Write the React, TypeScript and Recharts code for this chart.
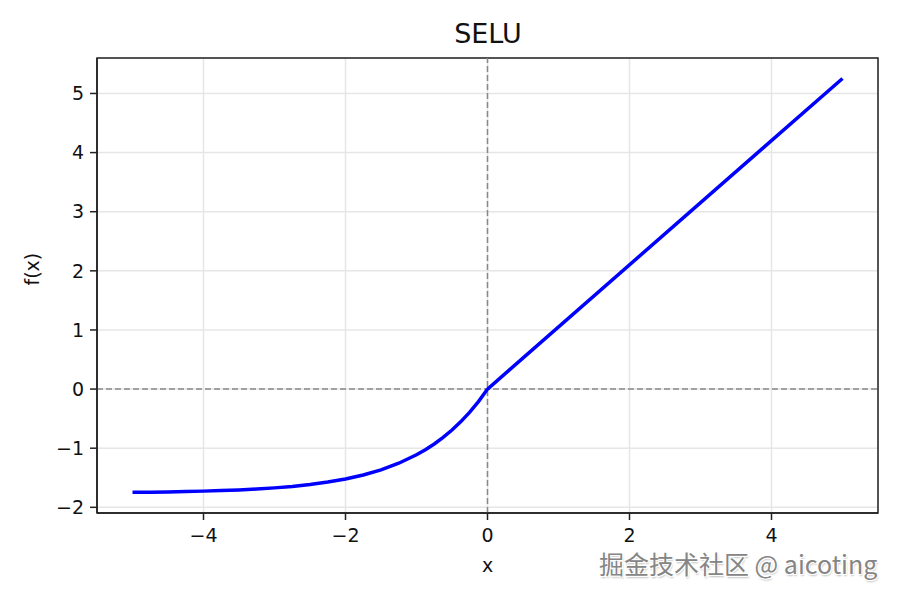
import { CartesianGrid, Line, LineChart, ReferenceArea, ReferenceLine, XAxis, YAxis } from "recharts";

// SELU curve, values
const X_VALUES = [
  -5, -4.75, -4.5, -4.25, -4, -3.75, -3.5, -3.25, -3, -2.75, -2.5, -2.25, -2, -1.75, -1.5,
  -1.25, -1, -0.875, -0.75, -0.625, -0.5, -0.375, -0.25, -0.125, 0, 5,
];
const Y_VALUES = [
  -1.746, -1.743, -1.739, -1.733, -1.726, -1.717, -1.705, -1.69, -1.671, -1.646, -1.614,
  -1.573, -1.52, -1.453, -1.366, -1.254, -1.111, -1.025, -0.928, -0.817, -0.692, -0.55,
  -0.389, -0.207, 0, 5.254,
];
const X_TICKS = [-4, -2, 0, 2, 4];
const Y_TICKS = [-2, -1, 0, 1, 2, 3, 4, 5];
const X_DOMAIN = [-5.5, 5.5];
const Y_DOMAIN = [-2.096, 5.6];

const data = X_VALUES.map((x, i) => ({ x, y: Y_VALUES[i] }));

const FONT = "'DejaVu Sans', sans-serif";
const fmt = (v: number) => String(v).replace("-", "\u2212");

export default function App() {
  return (
    <div style={{ position: "absolute", left: 0, top: 0, width: 900, height: 600, background: "#fff", fontFamily: FONT }}>
      <LineChart
        width={900}
        height={600}
        data={data}
        margin={{ top: 58, right: 22, left: 0, bottom: 0 }}
      >
        <CartesianGrid stroke="#e6e6e6" strokeWidth={1.5} />
        <XAxis
          dataKey="x"
          type="number"
          domain={X_DOMAIN}
          ticks={X_TICKS}
          tickFormatter={fmt}
          height={87}
          tickSize={7}
          tickMargin={9}
          stroke="#222"
          strokeWidth={1.5}
          tick={{ fill: "#111", fontSize: 19, fontFamily: FONT }}
          label={{ value: "x", position: "insideTop", offset: 46, fill: "#111", fontSize: 19, fontFamily: FONT }}
        />
        <YAxis
          type="number"
          domain={Y_DOMAIN}
          ticks={Y_TICKS}
          tickFormatter={fmt}
          width={97}
          tickSize={7}
          tickMargin={6}
          stroke="#222"
          strokeWidth={1.5}
          tick={{ fill: "#111", fontSize: 19, fontFamily: FONT }}
          label={{ value: "f(x)", angle: -90, position: "insideLeft", offset: 32, fill: "#111", fontSize: 19, fontFamily: FONT }}
        />
        <ReferenceLine y={0} stroke="#888" strokeWidth={1.5} strokeDasharray="6 3" />
        <ReferenceLine x={0} stroke="#888" strokeWidth={1.5} strokeDasharray="6 3" />
        <Line
          dataKey="y"
          type="linear"
          stroke="#0000ff"
          strokeWidth={3.5}
          dot={false}
          isAnimationActive={false}
        />
        {/* frame: all four spines */}
        <ReferenceArea
          x1={X_DOMAIN[0]}
          x2={X_DOMAIN[1]}
          y1={Y_DOMAIN[0]}
          y2={Y_DOMAIN[1]}
          fill="none"
          stroke="#222"
          strokeWidth={1.5}
          ifOverflow="extendDomain"
        />
      </LineChart>
      <div style={{ position: "absolute", left: 0, top: 18, width: 976, textAlign: "center", fontSize: 27, color: "#111" }}>
        SELU
      </div>
      <div
        style={{
          position: "absolute",
          left: 599,
          top: 545,
          fontSize: 25,
          color: "#858585",
          fontFamily: "'Noto Sans CJK SC', 'Noto Sans', sans-serif",
          textShadow: "1px 1px 0 #fff, -1px -1px 0 #fff, 1px -1px 0 #fff, -1px 1px 0 #fff, 1px 2px 2px #bbb",
          whiteSpace: "nowrap",
        }}
      >
        掘金技术社区 @ aicoting
      </div>
    </div>
  );
}
